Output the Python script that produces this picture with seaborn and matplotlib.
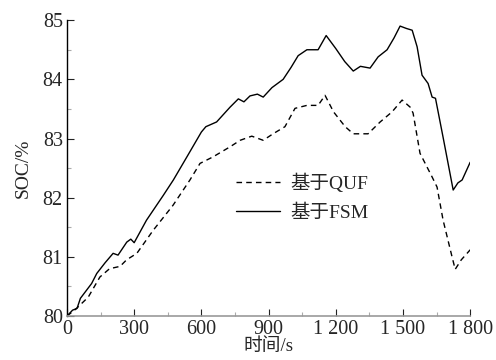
import numpy as np
import pandas as pd
import matplotlib.pyplot as plt
import seaborn as sns
from matplotlib.ticker import MultipleLocator

# SOC curves
t_fsm = [0, 25, 45, 60, 80, 110, 133, 170, 206, 228, 267, 285, 300, 355, 430, 475,
         540, 600, 620, 668, 728, 765, 790, 817, 850, 876, 915, 965, 1000, 1032, 1071,
         1121, 1157, 1200, 1240, 1278, 1310, 1353, 1389, 1429, 1460, 1487, 1515, 1541,
         1563, 1585, 1612, 1630, 1645, 1680, 1724, 1745, 1764, 1800]
soc_fsm = [80.0, 80.1, 80.13, 80.3, 80.4, 80.55, 80.72, 80.9, 81.06, 81.03, 81.25, 81.3,
           81.24, 81.62, 82.04, 82.3, 82.72, 83.11, 83.2, 83.28, 83.53, 83.67, 83.62, 83.72,
           83.75, 83.7, 83.86, 84.0, 84.2, 84.4, 84.5, 84.5, 84.74, 84.52, 84.3, 84.14,
           84.22, 84.19, 84.38, 84.5, 84.7, 84.9, 84.86, 84.83, 84.55, 84.07, 83.93, 83.7,
           83.68, 83.0, 82.13, 82.25, 82.3, 82.6]
t_quf = [0, 40, 95, 147, 190, 237, 266, 312, 385, 473, 549, 594, 652, 728, 773, 825,
         876, 920, 973, 1018, 1071, 1121, 1152, 1190, 1242, 1278, 1344, 1398, 1451, 1496,
         1532, 1545, 1576, 1630, 1652, 1679, 1719, 1733, 1760, 1800]
soc_quf = [80.0, 80.12, 80.32, 80.66, 80.8, 80.84, 80.95, 81.06, 81.45, 81.87, 82.3, 82.58,
           82.69, 82.86, 82.97, 83.04, 82.97, 83.08, 83.2, 83.51, 83.56, 83.56, 83.73, 83.45,
           83.2, 83.08, 83.08, 83.28, 83.45, 83.65, 83.53, 83.43, 82.75, 82.35, 82.18, 81.62,
           81.0, 80.79, 80.95, 81.12]

x_ticks = [0, 300, 600, 900, 1200, 1500, 1800]
x_labels = ['0', '300', '600', '900', '1 200', '1 500', '1 800']
y_ticks = [80, 81, 82, 83, 84, 85]

sns.set_style('ticks')
plt.rcParams['font.family'] = ['Liberation Serif', 'Noto Sans CJK SC']

fig = plt.figure(figsize=(4.96, 3.6), dpi=100)
ax = fig.add_axes([0.135, 0.122, 0.813, 0.822])

sns.lineplot(x=t_quf, y=soc_quf, ax=ax, color='black', lw=1.0,
             linestyle=(0, (4, 3)), label='基于QUF')
sns.lineplot(x=t_fsm, y=soc_fsm, ax=ax, color='black', lw=1.0, label='基于FSM')

ax.set_xlim(0, 1800)
ax.set_ylim(80, 85)
ax.set_xticks(x_ticks)
ax.set_xticklabels(x_labels, fontsize=14.5)
ax.set_yticks(y_ticks)
ax.set_yticklabels([str(v) for v in y_ticks], fontsize=14.5)
ax.xaxis.set_minor_locator(MultipleLocator(150))
ax.yaxis.set_minor_locator(MultipleLocator(0.5))
ax.tick_params(which='both', direction='in', color='#222222', width=0.8)
ax.tick_params(which='major', length=5, pad=3)
ax.tick_params(which='minor', length=3, color='#aaaaaa')

sns.despine(ax=ax)
ax.spines['left'].set_color('black')
ax.spines['left'].set_linewidth(1.0)
ax.spines['bottom'].set_color('#999999')
ax.spines['bottom'].set_linewidth(1.2)

ax.set_xlabel('时间/s', fontsize=13.5, labelpad=-1)
ax.set_ylabel('SOC/%', fontsize=14, labelpad=8)

ax.legend(loc='center left', bbox_to_anchor=(0.375, 0.4), frameon=False,
          fontsize=14, handlelength=2.3, handletextpad=0.5, labelspacing=0.6)

fig.savefig('out.png', dpi=100)
